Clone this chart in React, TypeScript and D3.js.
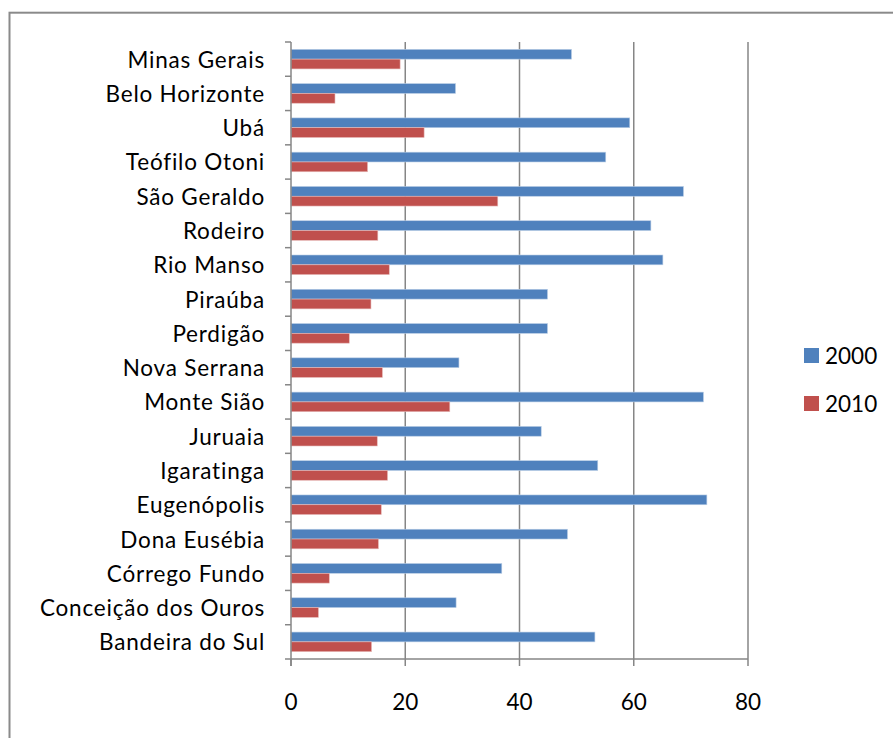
import React from "react";
import * as d3 from "d3";

const categories = [
  "Minas Gerais", "Belo Horizonte", "Ubá", "Teófilo Otoni", "São Geraldo", "Rodeiro",
  "Rio Manso", "Piraúba", "Perdigão", "Nova Serrana", "Monte Sião", "Juruaia",
  "Igaratinga", "Eugenópolis", "Dona Eusébia", "Córrego Fundo", "Conceição dos Ouros", "Bandeira do Sul",
];
const values2000 = [49.1, 28.8, 59.3, 55.1, 68.7, 63.0, 65.1, 44.9, 44.9, 29.4, 72.2, 43.8, 53.7, 72.8, 48.4, 36.9, 28.9, 53.2];
const values2010 = [19.1, 7.7, 23.3, 13.4, 36.2, 15.2, 17.2, 14.0, 10.2, 16.0, 27.8, 15.1, 16.9, 15.8, 15.3, 6.7, 4.8, 14.1];
const seriesNames = ["2000", "2010"];
const xTicks = [0, 20, 40, 60, 80];

const COLORS = ["#4F81BD", "#C0504D"];
const FONT = "Lato, 'Open Sans', sans-serif";

export default function App() {
  const W = 893, H = 738;
  const left = 291, right = 748, top = 42, bottom = 659;
  const x = d3.scaleLinear().domain([0, 80]).range([left, right]);
  const y = d3.scaleBand<string>().domain(categories).range([top, bottom]);
  const inner = d3.scaleBand<string>().domain(seriesNames).range([0, y.bandwidth()]).paddingInner(0).paddingOuter(0.75);
  const series = [values2000, values2010];
  const grid = "#868686";
  return (
    <svg width={W} height={H} style={{ position: "absolute", left: 0, top: 0, background: "#fff" }}>
      <rect x={9.5} y={12.7} width={W} height={H} fill="#fff" stroke="#8a8a8a" strokeWidth={2} />
      {xTicks.slice(1).map((t) => (
        <line key={t} x1={x(t)} x2={x(t)} y1={top} y2={bottom} stroke={grid} strokeWidth={1.5} />
      ))}
      {series.map((vals, si) =>
        categories.map((c, i) => (
          <rect key={si + "-" + c} x={x(0)} y={(y(c) as number) + (inner(seriesNames[si]) as number)}
            width={x(vals[i]) - x(0)} height={inner.bandwidth()} fill={COLORS[si]}
            stroke={si === 0 ? "#b9cde5" : "#e6b9b8"} strokeWidth={0.6} />
        ))
      )}
      <line x1={left} x2={left} y1={top} y2={bottom + 7} stroke={grid} strokeWidth={1.5} />
      <line x1={left - 6} x2={right} y1={bottom} y2={bottom} stroke={grid} strokeWidth={1.5} />
      {categories.map((c) => (
        <line key={"t" + c} x1={left - 6} x2={left} y1={y(c) as number} y2={y(c) as number} stroke={grid} strokeWidth={1.5} />
      ))}
      {xTicks.map((t) => (
        <g key={"xt" + t}>
          <line x1={x(t)} x2={x(t)} y1={bottom} y2={bottom + 7} stroke={grid} strokeWidth={1.5} />
          <text x={x(t)} y={701} textAnchor="middle" dominantBaseline="central" fontFamily={FONT} fontSize={22.5} fill="#000">{t}</text>
        </g>
      ))}
      {categories.map((c) => (
        <text key={"l" + c} x={265} y={(y(c) as number) + y.bandwidth() / 2} textAnchor="end" dominantBaseline="central"
          fontFamily={FONT} fontSize={22.5} letterSpacing={0.8} fill="#000">{c}</text>
      ))}
      {seriesNames.map((s, i) => (
        <g key={"lg" + s}>
          <rect x={804} y={348 + i * 48} width={15} height={15} fill={COLORS[i]} />
          <text x={825} y={355.5 + i * 48} dominantBaseline="central" fontFamily={FONT} fontSize={22.5} fill="#000">{s}</text>
        </g>
      ))}
    </svg>
  );
}
